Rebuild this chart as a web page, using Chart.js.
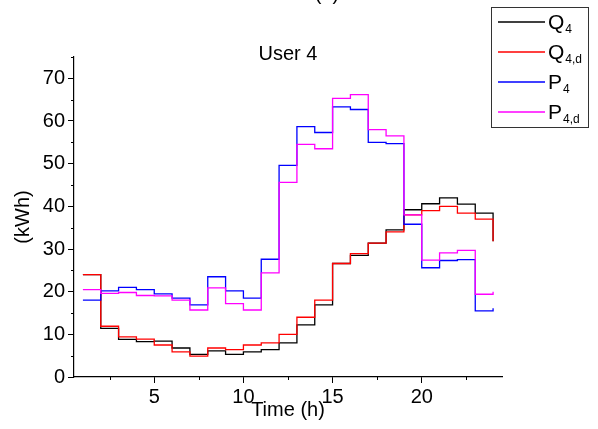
<!DOCTYPE html>
<html>
<head>
<meta charset="utf-8">
<script src="https://cdn.jsdelivr.net/npm/chart.js@4.4.1/dist/chart.umd.min.js"></script>
<style>
  html, body { margin: 0; padding: 0; background: #fff; }
  #wrap { width: 598px; height: 429px; }
</style>
</head>
<body>
<div id="wrap"><canvas id="chart" width="598" height="429"></canvas></div>
<script>
// ===== Data =====
const hours = [1, 2, 3, 4, 5, 6, 7, 8, 9, 10, 11, 12, 13, 14, 15, 16, 17, 18, 19, 20, 21, 22, 23, 24];
const q4  = [24.0, 11.4, 8.8, 8.3, 8.4, 6.8, 5.3, 6.1, 5.3, 5.9, 6.4, 8.0, 12.2, 16.9, 26.6, 28.5, 31.4, 34.5, 39.2, 40.6, 42.0, 40.5, 38.4, 31.8];
const q4d = [24.0, 11.9, 9.4, 8.9, 7.5, 5.9, 4.9, 6.8, 6.4, 7.5, 8.0, 10.0, 14.0, 18.0, 26.6, 28.9, 31.4, 34.0, 38.0, 39.0, 40.0, 38.4, 37.0, 31.8];
const p4  = [18.0, 20.2, 21.0, 20.5, 19.5, 18.5, 16.9, 23.5, 20.2, 18.5, 27.6, 49.6, 58.7, 57.3, 63.3, 62.7, 55.0, 54.7, 35.8, 25.6, 27.3, 27.5, 15.5, 16.1];
const p4d = [20.5, 19.6, 19.8, 19.1, 19.0, 18.0, 15.7, 20.9, 17.2, 15.7, 24.4, 45.6, 54.5, 53.5, 65.3, 66.2, 58.0, 56.5, 38.0, 27.4, 29.1, 29.7, 19.4, 20.0];

const xMajor = [5, 10, 15, 20];
const xMinor = [2.5, 7.5, 12.5, 17.5, 22.5];
const yMajor = [0, 10, 20, 30, 40, 50, 60, 70];
const yMinor = [5, 15, 25, 35, 45, 55, 65, 75];

const legendItems = [
    { main: 'Q', sub: '4',   color: '#000000' },
    { main: 'Q', sub: '4,d', color: '#ff0000' },
    { main: 'P', sub: '4',   color: '#0000ff' },
    { main: 'P', sub: '4,d', color: '#ff00ff' }
];

const FONT = '"Liberation Sans", Arial, sans-serif';

function toPoints(values) {
    return hours.map((h, i) => ({ x: h, y: values[i] }));
}

function series(label, values, color, order) {
    return {
        label: label,
        data: toPoints(values),
        borderColor: color,
        backgroundColor: color,
        borderWidth: 1.3,
        pointRadius: 0,
        stepped: true,
        fill: false,
        order: order
    };
}

// ===== Titles, legend, minor ticks =====
const overlay = {
    id: 'overlay',
    afterDraw(chart) {
        const { ctx, chartArea, scales } = chart;
        const x = scales.x, y = scales.y;
        ctx.save();

        // minor ticks
        ctx.strokeStyle = '#000';
        ctx.lineWidth = 1;
        ctx.beginPath();
        xMinor.forEach(v => {
            const px = Math.round(x.getPixelForValue(v)) + 0.5;
            ctx.moveTo(px, chartArea.bottom);
            ctx.lineTo(px, chartArea.bottom + 3);
        });
        yMinor.forEach(v => {
            const py = Math.round(y.getPixelForValue(v)) + 0.5;
            ctx.moveTo(chartArea.left, py);
            ctx.lineTo(chartArea.left - 3, py);
        });
        ctx.stroke();

        // titles
        ctx.fillStyle = '#000';
        ctx.font = '20px ' + FONT;
        ctx.textAlign = 'center';
        ctx.textBaseline = 'middle';
        ctx.fillText('User 4', (chartArea.left + chartArea.right) / 2, 54);
        ctx.textBaseline = 'alphabetic';
        ctx.fillText('(d)', 327, 0);

        // legend box
        ctx.strokeStyle = '#333';
        ctx.lineWidth = 1;
        ctx.strokeRect(491.5, 7.5, 97, 120);
        legendItems.forEach((item, i) => {
            const ry = 22 + i * 30;
            ctx.strokeStyle = item.color;
            ctx.lineWidth = 1.3;
            ctx.beginPath();
            ctx.moveTo(498, ry);
            ctx.lineTo(545, ry);
            ctx.stroke();
            ctx.fillStyle = '#000';
            ctx.textAlign = 'left';
            ctx.textBaseline = 'alphabetic';
            ctx.font = '21px ' + FONT;
            ctx.fillText(item.main, 548, ry + 6.5);
            const w = ctx.measureText(item.main).width;
            ctx.font = '12px ' + FONT;
            ctx.fillText(item.sub, 548 + w + 1, ry + 11);
        });
        ctx.restore();
    }
};

// ===== Chart =====
new Chart(document.getElementById('chart'), {
    type: 'line',
    data: {
        datasets: [
            series('Q4', q4, '#000000', 3),
            series('Q4,d', q4d, '#ff0000', 2),
            series('P4', p4, '#0000ff', 1),
            series('P4,d', p4d, '#ff00ff', 0)
        ]
    },
    options: {
        responsive: false,
        animation: false,
        layout: { padding: { left: 0, right: 96, top: 57, bottom: 0 } },
        plugins: {
            legend: { display: false },
            tooltip: { enabled: false }
        },
        scales: {
            x: {
                type: 'linear',
                min: 0.5,
                max: 24.5,
                afterBuildTicks: s => { s.ticks = xMajor.map(v => ({ value: v })); },
                afterFit: s => { s.height = 52; },
                border: { color: '#000', width: 1.2 },
                grid: { drawOnChartArea: false, drawTicks: true, tickLength: 6, tickColor: '#000', tickWidth: 1 },
                ticks: { color: '#000', font: { family: FONT, size: 20 }, padding: 2, maxRotation: 0 },
                title: { display: true, text: 'Time (h)', color: '#000', font: { family: FONT, size: 20 }, padding: { top: 0, bottom: 7 } }
            },
            y: {
                type: 'linear',
                min: 0,
                max: 75,
                afterBuildTicks: s => { s.ticks = yMajor.map(v => ({ value: v })); },
                afterFit: s => { s.width = 74; },
                border: { color: '#000', width: 1.2 },
                grid: { drawOnChartArea: false, drawTicks: true, tickLength: 6, tickColor: '#000', tickWidth: 1 },
                ticks: { color: '#000', font: { family: FONT, size: 20 }, padding: 3 },
                title: { display: true, text: '(kWh)', color: '#000', font: { family: FONT, size: 20 }, padding: { top: 11, bottom: 0 } }
            }
        }
    },
    plugins: [overlay]
});
</script>
</body>
</html>
